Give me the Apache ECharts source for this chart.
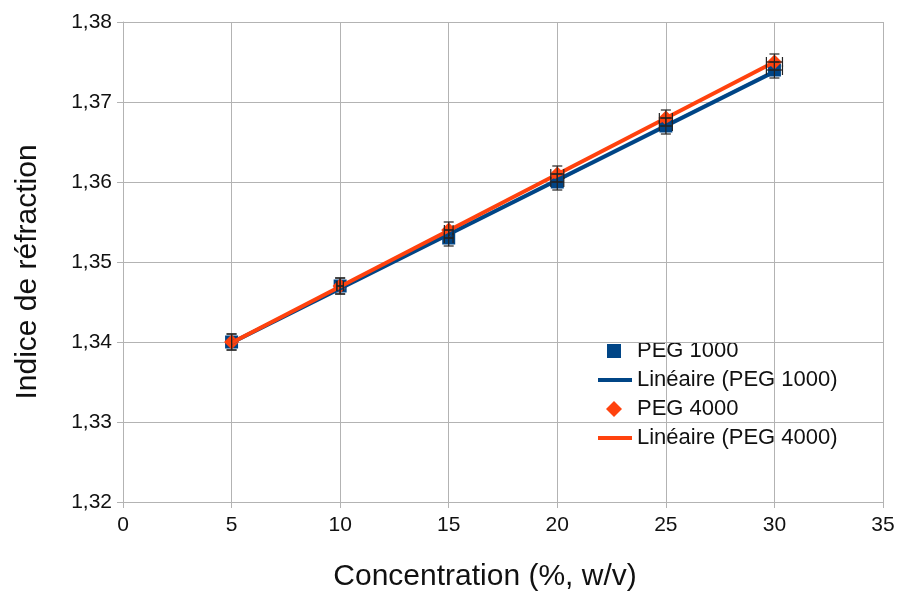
<!DOCTYPE html>
<html>
<head>
<meta charset="utf-8">
<script src="https://cdn.jsdelivr.net/npm/echarts@6/dist/echarts.min.js"></script>
<style>html,body{margin:0;padding:0;background:#fff}#c{width:901px;height:594px}</style>
</head>
<body>
<div id="c"></div>
<script>
var concentrations = [5, 10, 15, 20, 25, 30];
var peg1000 = [1.340, 1.347, 1.353, 1.360, 1.367, 1.374];
var peg4000 = [1.340, 1.347, 1.354, 1.361, 1.368, 1.375];
var yErr = [0.001, 0.001, 0.001, 0.001, 0.001, 0.001];
var xErr = [0.1, 0.15, 0.2, 0.3, 0.3, 0.37];
var trendX = [5, 30];
var trend1000 = [1.3399, 1.3738];
var trend4000 = [1.3399, 1.3750];
var xTicks = [0, 5, 10, 15, 20, 25, 30, 35];
var yTicks = [1.32, 1.33, 1.34, 1.35, 1.36, 1.37, 1.38];
var legendNames = ['PEG 1000', 'Linéaire (PEG 1000)', 'PEG 4000', 'Linéaire (PEG 4000)'];
var xTitle = 'Concentration (%, w/v)';
var yTitle = 'Indice de réfraction';

var BLUE = '#004586', ORANGE = '#ff420e';
function pairs(xs, ys) { return xs.map(function (x, i) { return [x, ys[i]]; }); }
function errData(ys) { return concentrations.map(function (x, i) { return [x, ys[i], xErr[i], yErr[i]]; }); }

function errRender(params, api) {
  var x = api.value(0), y = api.value(1), ex = api.value(2), ey = api.value(3);
  var top = api.coord([x, y + ey]), bot = api.coord([x, y - ey]);
  var left = api.coord([x - ex, y]), right = api.coord([x + ex, y]);
  var c = 5;
  var st = { stroke: '#222', lineWidth: 1.2 };
  var ch = [
    { type: 'line', shape: { x1: top[0], y1: top[1], x2: bot[0], y2: bot[1] }, style: st },
    { type: 'line', shape: { x1: top[0] - c, y1: top[1], x2: top[0] + c, y2: top[1] }, style: st },
    { type: 'line', shape: { x1: bot[0] - c, y1: bot[1], x2: bot[0] + c, y2: bot[1] }, style: st }
  ];
  if (right[0] - left[0] > 6) {
    ch.push({ type: 'line', shape: { x1: left[0], y1: left[1], x2: right[0], y2: right[1] }, style: st });
    ch.push({ type: 'line', shape: { x1: left[0], y1: left[1] - c, x2: left[0], y2: left[1] + c }, style: st });
    ch.push({ type: 'line', shape: { x1: right[0], y1: right[1] - c, x2: right[0], y2: right[1] + c }, style: st });
  }
  return { type: 'group', children: ch };
}

var FONT = '"Liberation Sans", Arial, sans-serif';
var chart = echarts.init(document.getElementById('c'));
var lx = 598, ly0 = 351, dy = 29;
var legFont = 22;
chart.setOption({
  animation: false,
  grid: { left: 123, right: 18, top: 22, bottom: 92, containLabel: false, outerBoundsMode: 'none' },
  xAxis: {
    type: 'value', min: 0, max: 35, interval: 5,
    axisLine: { show: true, onZero: false, lineStyle: { color: '#b3b3b3' } },
    axisTick: { show: true, length: 6, lineStyle: { color: '#b3b3b3' } },
    axisLabel: { fontFamily: FONT, fontSize: 21, color: '#111', margin: 13 },
    splitLine: { show: true, lineStyle: { color: '#b3b3b3' } }
  },
  yAxis: {
    type: 'value', min: 1.32, max: 1.38, interval: 0.01,
    axisLine: { show: true, lineStyle: { color: '#b3b3b3' } },
    axisTick: { show: true, length: 6, lineStyle: { color: '#b3b3b3' } },
    axisLabel: { fontFamily: FONT, fontSize: 21, color: '#111', margin: 11,
      formatter: function (v) { return v.toFixed(2).replace('.', ','); } },
    splitLine: { show: true, lineStyle: { color: '#b3b3b3' } }
  },
  series: [
    { name: legendNames[0], type: 'scatter', data: pairs(concentrations, peg1000), symbol: 'rect', symbolSize: 13, itemStyle: { color: BLUE, opacity: 1 }, z: 2 },
    { name: legendNames[2], type: 'scatter', data: pairs(concentrations, peg4000), symbol: 'diamond', symbolSize: 15, itemStyle: { color: ORANGE, opacity: 1 }, z: 2 },
    { name: legendNames[1], type: 'line', data: pairs(trendX, trend1000), symbol: 'none', lineStyle: { color: BLUE, width: 4 }, z: 3 },
    { name: legendNames[3], type: 'line', data: pairs(trendX, trend4000), symbol: 'none', lineStyle: { color: ORANGE, width: 4 }, z: 4 },
    { type: 'custom', renderItem: errRender, data: errData(peg1000), z: 5, encode: { x: 0, y: 1 } },
    { type: 'custom', renderItem: errRender, data: errData(peg4000), z: 5, encode: { x: 0, y: 1 } }
  ],
  graphic: [
    { type: 'text', x: 485, y: 577, style: { text: xTitle, fontFamily: FONT, fontSize: 30, fill: '#111', align: 'center', verticalAlign: 'middle' } },
    { type: 'text', x: 28, y: 272, rotation: Math.PI / 2, style: { text: yTitle, fontFamily: FONT, fontSize: 30, fill: '#111', align: 'center', verticalAlign: 'middle' } },
    { type: 'rect', shape: { x: lx + 9, y: ly0 - 7, width: 14, height: 14 }, style: { fill: BLUE } },
    { type: 'text', x: lx + 39, y: ly0, style: { text: legendNames[0], fontFamily: FONT, fontSize: legFont, fill: '#111', verticalAlign: 'middle' } },
    { type: 'line', shape: { x1: lx, y1: ly0 + dy, x2: lx + 34, y2: ly0 + dy }, style: { stroke: BLUE, lineWidth: 4 } },
    { type: 'text', x: lx + 39, y: ly0 + dy, style: { text: legendNames[1], fontFamily: FONT, fontSize: legFont, fill: '#111', verticalAlign: 'middle' } },
    { type: 'polygon', shape: { points: [[lx + 16, ly0 + 2 * dy - 8], [lx + 24, ly0 + 2 * dy], [lx + 16, ly0 + 2 * dy + 8], [lx + 8, ly0 + 2 * dy]] }, style: { fill: ORANGE } },
    { type: 'text', x: lx + 39, y: ly0 + 2 * dy, style: { text: legendNames[2], fontFamily: FONT, fontSize: legFont, fill: '#111', verticalAlign: 'middle' } },
    { type: 'line', shape: { x1: lx, y1: ly0 + 3 * dy, x2: lx + 34, y2: ly0 + 3 * dy }, style: { stroke: ORANGE, lineWidth: 4 } },
    { type: 'text', x: lx + 39, y: ly0 + 3 * dy, style: { text: legendNames[3], fontFamily: FONT, fontSize: legFont, fill: '#111', verticalAlign: 'middle' } }
  ]
});
</script>
</body>
</html>
